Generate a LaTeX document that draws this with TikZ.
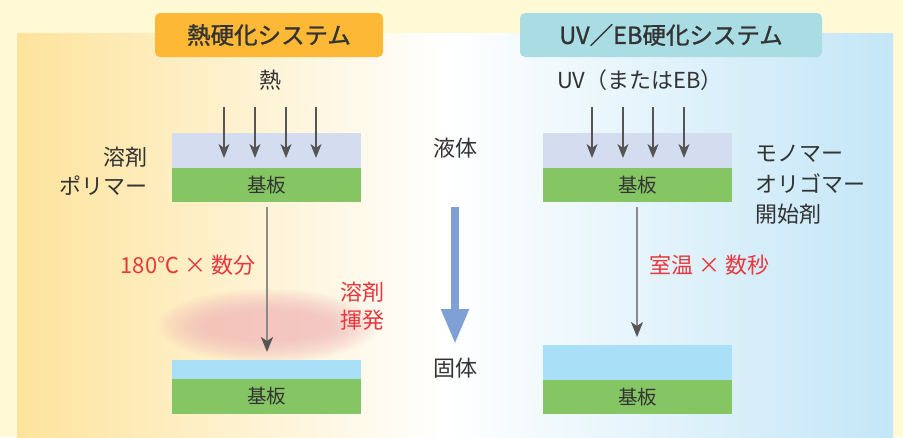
\documentclass[tikz,border=0pt]{standalone}
\usepackage{fontspec}
\setmainfont{Noto Sans CJK JP}
\newfontfamily\titlefont{Noto Sans CJK JP}[FakeBold=1.2]
\usetikzlibrary{arrows.meta}
\definecolor{outerbg}{HTML}{FFF9D6}
\definecolor{panelL}{HTML}{FDE39C}
\definecolor{panelR}{HTML}{C4E6F7}
\definecolor{titleorange}{HTML}{FDB835}
\definecolor{titleteal}{HTML}{A9DDE3}
\definecolor{lav}{HTML}{D4DCEF}
\definecolor{grn}{HTML}{86C564}
\definecolor{lblue}{HTML}{AADFF8}
\definecolor{txt}{HTML}{333333}
\definecolor{redt}{HTML}{E8383D}
\definecolor{arrowdark}{HTML}{555555}
\definecolor{arrowgray}{HTML}{8A8A8A}
\definecolor{bigblue}{HTML}{7FA0D4}
\definecolor{pinkE}{HTML}{F4B0B6}
\begin{document}
\begin{tikzpicture}[x=1pt,y=-1pt,
  layer/.style={inner sep=0pt,outer sep=0pt,draw=none,minimum width=189pt},
  label/.style={text=txt,font=\fontsize{22}{25}\selectfont,inner sep=0pt},
  redlabel/.style={text=redt,font=\fontsize{22}{25}\selectfont,inner sep=0pt},
  subtxt/.style={text=txt,font=\fontsize{19.5}{22}\selectfont},
  titlebox/.style={rounded corners=5pt,minimum height=44pt,inner sep=0pt,text=txt,font=\titlefont\fontsize{23.5}{26}\selectfont},
  heatarrow/.style={draw=arrowdark,line width=1.2pt,-{Stealth[length=14pt,width=11pt,inset=4pt]}},
  flowarrow/.style={draw=arrowgray,line width=2pt,-{Stealth[length=15pt,width=12pt,inset=4pt,color=arrowdark]}}
]
\useasboundingbox (0,0) rectangle (903,437);
\fill[outerbg] (0,0) rectangle (903,437);
\shade[left color=panelL,right color=white] (17,33) rectangle (445,437);
\shade[left color=white,right color=panelR] (445,33) rectangle (893,437);

% titles
\node[titlebox,fill=titleorange,minimum width=228pt] (t1) at (269,35) {熱硬化システム};
\node[titlebox,fill=titleteal,minimum width=302pt] (t2) at (671,35) {UV／EB硬化システム};

% pink vapour
\foreach \k in {0,...,13}{
  \fill[pinkE,opacity=0.065] (268,326) ellipse [x radius={110-3.6*\k}, y radius={37-1.7*\k}];
}

% left stacks
\node[layer,fill=lav,minimum height=35pt] (lt1) at (266.5,150.5) {};
\node[layer,fill=grn,minimum height=34pt] (lg1) at (266.5,185) {};
\node[subtxt] at (lg1) {基板};
\node[layer,fill=lblue,minimum height=19pt] (lb2) at (266.5,369.5) {};
\node[layer,fill=grn,minimum height=35pt] (lg2) at (266.5,396.5) {};
\node[subtxt] at (lg2) {基板};

% right stacks
\node[layer,fill=lav,minimum height=35pt] (rt1) at (637.5,150.5) {};
\node[layer,fill=grn,minimum height=34pt] (rg1) at (637.5,185) {};
\node[subtxt] at (rg1) {基板};
\node[layer,fill=lblue,minimum height=35pt] (rb2) at (637.5,362.5) {};
\node[layer,fill=grn,minimum height=34pt] (rg2) at (637.5,397) {};
\node[subtxt] at (rg2) {基板};

% labels
\node[label] (heat) at (270,80) {熱};
\node[label] (uv) at (640,80) {UV（またはEB）};
\node[label,anchor=east] (solv) at (148,157) {溶剤};
\node[label,anchor=east] (poly) at (148,186) {ポリマー};
\node[label] (liq) at (455,148) {液体};
\node[label] (sol) at (455,368) {固体};
\node[label,anchor=west] (mono) at (755,154) {モノマー};
\node[label,anchor=west] (olig) at (755,184) {オリゴマー};
\node[label,anchor=west] (init) at (755,214) {開始剤};
\node[redlabel] (cond1) at (188,265) {180℃ × 数分};
\node[redlabel,align=center,font=\fontsize{22}{28}\selectfont] (evap) at (362,306) {溶剤\\揮発};
\node[redlabel,anchor=west] (cond2) at (649,265) {室温 × 数秒};

% heat arrows
\foreach \x [count=\i] in {224,255,286,316}{
  \coordinate (ha\i) at (\x,107);
  \coordinate (hb\i) at (\x,158);
  \draw[heatarrow] (ha\i) -- (hb\i);
}
\foreach \x [count=\i] in {592,623,653,684}{
  \coordinate (ua\i) at (\x,107);
  \coordinate (ub\i) at (\x,158);
  \draw[heatarrow] (ua\i) -- (ub\i);
}

% flow arrows
\coordinate (lfs) at (267,207);
\coordinate (lfe) at (267,352);
\draw[flowarrow] (lfs) -- (lfe);
\coordinate (rfs) at (637,207);
\coordinate (rfe) at (637,337);
\draw[flowarrow] (rfs) -- (rfe);

% big blue arrow
\coordinate (bbs) at (455,207);
\coordinate (bbe) at (455,344);
\draw[bigblue,line width=8pt,-{Triangle[width=26pt,length=35pt]}] (bbs) -- (bbe);
\end{tikzpicture}
\end{document}
